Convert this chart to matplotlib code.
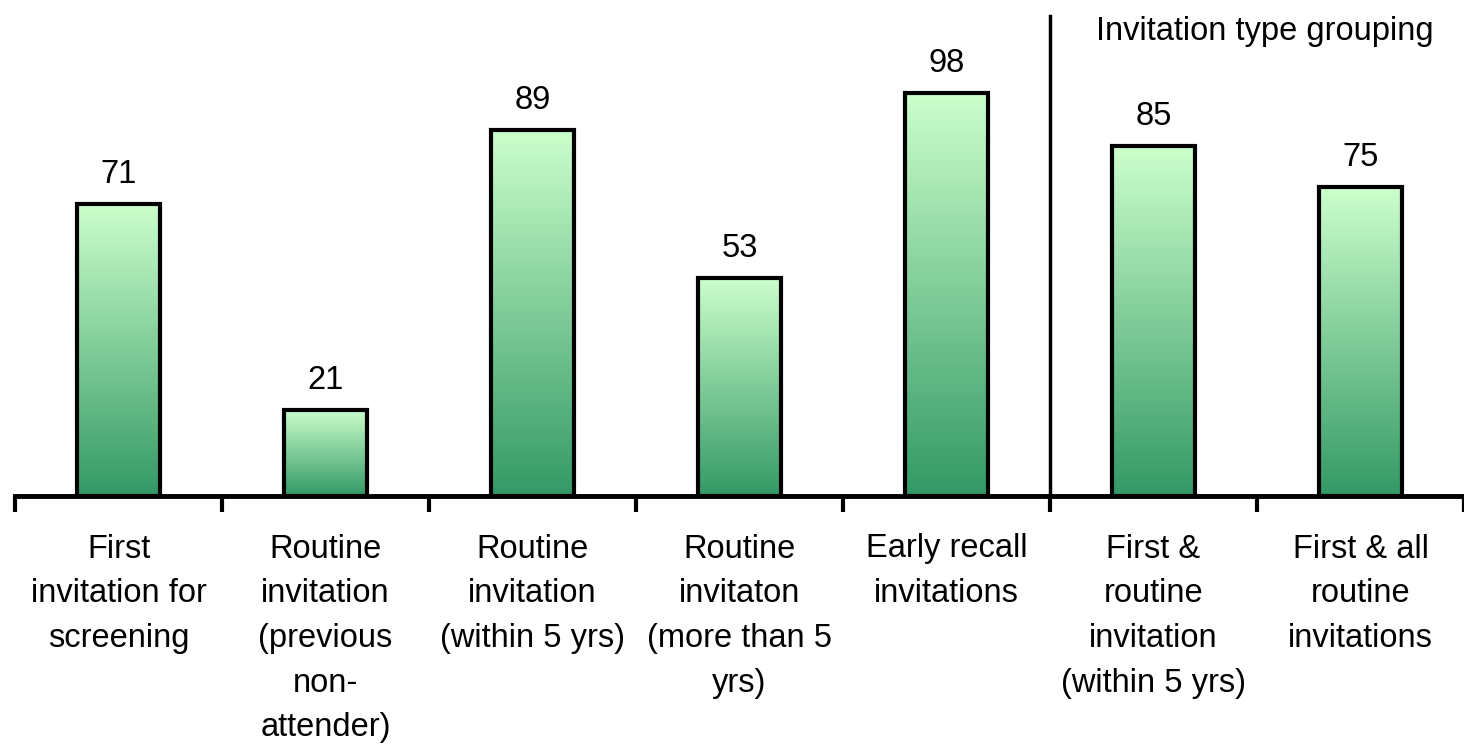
import numpy as np
import matplotlib
matplotlib.use("Agg")
import matplotlib.pyplot as plt
from matplotlib.colors import to_rgb

categories = [
    "First\ninvitation for\nscreening",
    "Routine\ninvitation\n(previous\nnon-\nattender)",
    "Routine\ninvitation\n(within 5 yrs)",
    "Routine\ninvitaton\n(more than 5\nyrs)",
    "Early recall\ninvitations",
    "First &\nroutine\ninvitation\n(within 5 yrs)",
    "First & all\nroutine\ninvitations",
]
values = [71, 21, 89, 53, 98, 85, 75]
group_title = "Invitation type grouping"
group_start = 5  # separator sits before this category

top_col = "#CCFFCC"
bottom_col = "#339966"

plt.rcParams["font.family"] = ["Liberation Sans", "DejaVu Sans"]
fs = 23.5

fig = plt.figure(figsize=(14.64, 7.44), dpi=100)
W, H = 1464, 744
ax = fig.add_axes([15 / W, 1 - 496 / H, 1449 / W, 496 / H])

x = np.arange(len(categories))
bars = ax.bar(x, values, width=0.4, facecolor="none", edgecolor="black",
              linewidth=3, zorder=3)

# vertical gradient in each bar, light at top, dark at bottom
grad = np.linspace(0, 1, 256)[:, None, None]
c0 = np.array(to_rgb(top_col))
c1 = np.array(to_rgb(bottom_col))
img = c0 * (1 - grad) + c1 * grad
for b in bars:
    x0, w, h = b.get_x(), b.get_width(), b.get_height()
    ax.imshow(img, extent=(x0, x0 + w, 0, h), aspect="auto",
              origin="upper", zorder=2, interpolation="bilinear")

for xi, v in zip(x, values):
    ax.annotate(str(v), (xi, v), xytext=(0, 15), textcoords="offset points",
                ha="center", va="baseline", fontsize=fs)

ax.set_xlim(-0.5, len(categories) - 0.5)
ax.set_ylim(0, 120.5)

for s in ["left", "right", "top"]:
    ax.spines[s].set_visible(False)
ax.spines["bottom"].set_linewidth(3.5)
ax.set_yticks([])

ax.set_xticks(np.arange(len(categories) + 1) - 0.5)
ax.set_xticklabels([])
ax.tick_params(axis="x", which="major", length=11.5, width=3, direction="out")
ax.set_xticks(x, minor=True)
ax.set_xticklabels(categories, minor=True, fontsize=fs, linespacing=1.57)
ax.tick_params(axis="x", which="minor", length=0, pad=27)
for t in ax.get_xticklines():
    t.set_clip_on(False)

ax.axvline(group_start - 0.5, ymin=0, ymax=480 / 496, color="black", linewidth=2.5)
fig.text(1265 / W, 1 - 40 / H, group_title, ha="center", va="baseline", fontsize=fs)

fig.savefig("out.png", dpi=100)
